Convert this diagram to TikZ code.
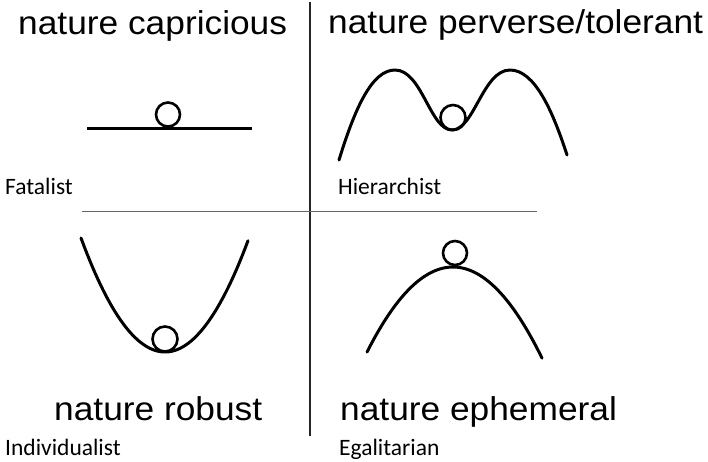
\documentclass[tikz,border=0pt]{standalone}
\usepackage{fontspec}
\setmainfont{Liberation Sans}
\newfontfamily\titlefont[FakeStretch=1.07]{Liberation Sans}
\newfontfamily\labfont{Carlito}
\begin{document}
\begin{tikzpicture}[x=1pt,y=-1pt,
  title/.style={anchor=base west,inner sep=0pt,font=\titlefont\fontsize{33}{33}\selectfont},
  lab/.style={anchor=base west,inner sep=0pt,font=\labfont\fontsize{23.5}{23.5}\selectfont},
  curve/.style={line width=3pt,line cap=round,line join=round},
  ball/.style={line width=2.6pt}]
\useasboundingbox (0,0) rectangle (708,461);
% dividers
\coordinate (vt) at (310,2);
\coordinate (vb) at (310,436);
\coordinate (hl) at (82,211.5);
\coordinate (hr) at (537,211.5);
\draw[line width=1.8pt,black!85] (vt) -- (vb);
\draw[line width=1.4pt,black!60] (hl) -- (hr);
% titles
\node[title] (t1) at (18,34.5) {nature capricious};
\node[title] (t2) at (328,33.5) {nature perverse/tolerant};
\node[title] (t3) at (54,420) {nature robust};
\node[title] (t4) at (340,420) {nature ephemeral};
% labels
\node[lab] (l1) at (5,194) {Fatalist};
\node[lab] (l2) at (338,194) {Hierarchist};
\node[lab] (l3) at (5,455) {Individualist};
\node[lab] (l4) at (339,455) {Egalitarian};
% capricious
\coordinate (fa) at (87,128);
\coordinate (fb) at (252,128);
\draw[curve,line cap=butt] (fa) -- (fb);
\draw[ball] (168,114.5) circle (12);
% perverse/tolerant
\draw[curve] (339,160) .. controls (355,108) and (372,70) .. (395,70)
  .. controls (422,70) and (430,130) .. (452,130)
  .. controls (474,130) and (483,70) .. (510,70)
  .. controls (535,70) and (553,112) .. (567,155);
\draw[ball] (453,117.5) circle (12.5);
% robust
\draw[curve,domain=81:248,samples=60] plot (\x,{352-0.01616*(\x-165)*(\x-165)});
\draw[ball] (165,339) circle (12.5);
% ephemeral
\draw[curve,domain=367:542,samples=60] plot (\x,{267+0.0115*(\x-453)*(\x-453)});
\draw[ball] (455,253) circle (12);
\end{tikzpicture}
\end{document}
